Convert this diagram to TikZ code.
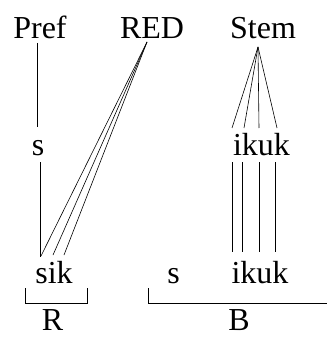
\documentclass[tikz,border=0pt]{standalone}
\usepackage{fontspec}
\setmainfont{Liberation Serif}
\begin{document}
\begin{tikzpicture}[x=1pt,y=-1pt,
  lbl/.style={anchor=base,inner sep=0pt,font=\fontsize{32}{38}\selectfont},
  assoc/.style={line width=0.6pt},
  brk/.style={line width=0.6pt}]
\useasboundingbox (0,0) rectangle (327,337);
% tier labels
\node[lbl] (pref) at (40,39) {Pref};
\node[lbl] (red) at (152,39) {RED};
\node[lbl] (stem) at (263,39) {Stem};
% middle segments
\node[lbl] (s1) at (38,155) {s};
\node[lbl] (ikuk1) at (261.5,155) {ikuk};
% bottom segments
\node[lbl] (sik) at (54,283) {sik};
\node[lbl] (s2) at (173.5,283) {s};
\node[lbl] (ikuk2) at (260,283) {ikuk};
% constituent labels
\node[lbl,text depth=0pt] (R) at (52.5,330) {R};
\node[lbl,text depth=0pt] (B) at (239,330) {B};
% connection points
\coordinate (prefB) at (37,43);
\coordinate (s1T) at (37,127);
\coordinate (s1B) at (40,162);
\coordinate (sikS) at (40,257);
\coordinate (redB) at (147,42);
\coordinate (sikS2) at (41,256);
\coordinate (sikI) at (53,255);
\coordinate (sikK) at (64,255);
\coordinate (stemB) at (258,47);
\coordinate (ikT1) at (232,128);
\coordinate (ikT2) at (244,128);
\coordinate (ikT3) at (259,128);
\coordinate (ikT4) at (277,128);
\coordinate (ikB1) at (232,162);
\coordinate (ikB2) at (242.5,162);
\coordinate (ikB3) at (259,162);
\coordinate (ikB4) at (275,162);
\coordinate (ikD1) at (232,252);
\coordinate (ikD2) at (242.5,252);
\coordinate (ikD3) at (259,252);
\coordinate (ikD4) at (275,252);
% association lines
\draw[assoc] (prefB) -- (s1T);
\draw[assoc] (s1B) -- (sikS);
\draw[assoc] (redB) -- (sikS2);
\draw[assoc] (redB) -- (sikI);
\draw[assoc] (redB) -- (sikK);
\foreach \i in {1,2,3,4} {
  \draw[assoc] (stemB) -- (ikT\i);
  \draw[assoc] (ikB\i) -- (ikD\i);
}
% brackets
\coordinate (rL) at (25,288);
\coordinate (rR) at (87,288);
\coordinate (bL) at (148,288);
\coordinate (bR) at (327,303);
\draw[brk] (rL) -- ++(0,15) -| (rR);
\draw[brk] (bL) -- ++(0,15) -- (bR);
\end{tikzpicture}
\end{document}
